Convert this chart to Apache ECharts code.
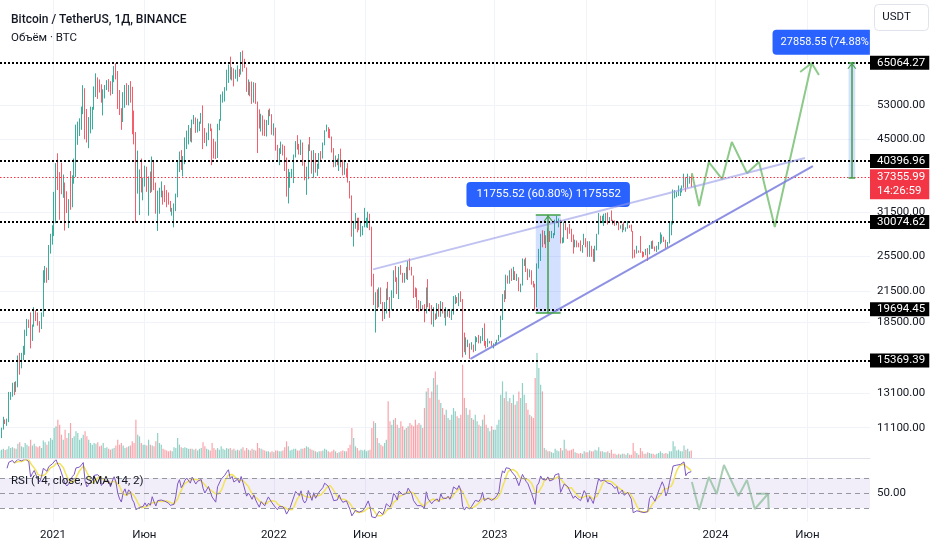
<!DOCTYPE html>
<html>
<head>
<meta charset="utf-8">
<script src="https://cdn.jsdelivr.net/npm/echarts@6/dist/echarts.min.js"></script>
<style>html,body{margin:0;padding:0;background:#fff}#c{width:932px;height:550px}</style>
</head>
<body>
<div id="c"></div>
<script>
// ===== DATA =====
// 3-day BTC/USDT candles, starting 2020-09-19; prices in thousands of USDT.
// open of each candle = previous close (24/7 market).
const CANDLE_START = '2020-09-19';
const CANDLE_DAYS = 3;
const FIRST_OPEN = 11.08;

const close2020 = [10.42,10.73,10.77,10.78,10.55, 10.59,11.05,11.55,11.5,11.5,12.8,13.1,13.65,13.55,13.55, 15.6,15.5,15.7,16.05,17.65,18.65,18.4,17.15,18.2,19.2, 19.15,18.3,18.05,19.25,22.8,23.85,23.25,26.45,27.35,29.4];
const high2020  = [11.05,10.8,10.8,10.95,10.9, 10.8,11.1,11.7,11.55,11.6,13.2,13.2,13.8,13.85,13.9, 15.75,15.95,15.95,16.5,17.85,18.8,18.75,19.4,18.3,19.9, 19.6,19.4,18.6,19.4,23.8,24.3,24.1,26.9,28.4,29.6];
const low2020   = [10.35,10.2,10.55,10.63,10.4, 10.5,10.55,11.0,11.3,11.2,11.4,12.7,12.9,13.0,13.2, 13.5,14.35,14.8,15.4,15.8,17.3,18.0,16.3,16.9,18.1, 18.6,18.2,17.6,17.9,19.0,22.4,22.4,22.7,25.8,26.95];
const vol2020   = [60,55,50,50,48, 45,50,55,48,52,70,60,65,58,55, 85,95,70,65,90,80,70,110,75,85, 70,65,72,60,105,95,80,100,120,110];

const close2021 = [32.0,39.4,38.2,37.4,36.0,36.0,33.0,32.3,33.4,33.1, 37.6,39.2,46.5,47.4,47.9,51.5,57.4,49.7,46.2,48.4, 48.8,52.4,57.8,59.0,58.9,58.1,54.3,55.0,57.6,58.7, 58.2,56.0,59.8,63.5,61.4,55.7,51.7,49.1,54.9,57.8, 53.2,57.4,55.9,49.7,46.4,37.0,37.5,38.3,35.7,37.3, 39.2,35.8,37.4,35.5,40.1,35.8,31.6,34.7,34.7,35.0, 34.7,34.2,33.8,33.1,31.8,31.8,32.1,34.3,39.5,42.2, 39.2,40.9,43.8,45.6,47.1,44.7,49.3,49.5,46.9,48.8, 48.8,49.9,46.9,44.9,44.9,47.8,47.3,43.6,42.7,41.0, 48.1,49.2,53.8,54.7,57.4,60.9,64.3,60.7,63.1,60.6, 61.3,62.9,61.5,66.9,64.2,63.6,56.9,58.7,57.1,54.7, 57.0,53.6,50.6,47.5,50.1,48.9,46.7,49.0,50.8,50.7, 47.1,47.3];
const high2021  = [34.8,40.0,41.95,38.3,40.1,37.85,36.4,34.9,33.6,38.5, 37.7,40.9,48.2,48.9,49.7,52.6,58.35,57.5,52.0,50.0, 52.6,52.5,58.0,61.8,60.6,60.0,58.6,57.2,58.4,59.8, 60.1,59.5,61.2,64.0,64.85,62.5,57.0,52.2,56.4,58.4, 58.9,58.4,59.5,57.9,51.6,46.5,42.5,38.8,40.9,37.3, 39.5,39.3,37.5,38.4,41.3,40.5,36.4,35.0,35.5,36.6, 35.0,35.95,35.1,34.7,33.3,32.2,32.9,34.5,40.5,42.3, 42.6,41.4,45.3,46.8,48.1,47.4,49.4,50.5,49.9,49.6, 48.9,51.0,52.9,47.4,46.4,48.5,48.4,47.3,45.0,44.4, 48.4,49.5,55.8,56.6,57.8,62.9,64.5,67.0,63.7,63.3, 62.9,64.2,63.1,68.5,69.0,66.3,63.6,60.0,59.3,59.4, 59.2,59.0,53.9,51.9,50.8,50.4,49.4,49.3,51.8,52.1, 50.7,48.5];
const low2021   = [28.1,29.9,35.1,30.4,34.4,33.8,28.85,31.4,29.2,31.9, 32.3,36.2,37.4,43.7,45.6,47.0,50.7,44.9,44.2,43.0, 46.2,47.1,51.8,55.1,54.6,56.3,53.6,50.4,54.7,57.0, 56.5,55.5,55.9,59.2,60.0,52.0,50.5,47.0,48.8,52.3, 53.0,52.9,53.6,46.0,43.8,30.0,34.5,31.1,34.7,33.4, 35.7,34.8,31.0,34.6,34.8,35.1,31.3,28.8,31.3,33.9, 32.7,33.1,32.3,32.7,31.6,31.0,29.3,31.7,33.9,38.3, 38.7,37.5,39.8,42.8,43.8,44.4,44.2,48.3,46.3,46.4, 46.7,48.4,42.8,44.1,43.4,44.7,46.7,39.6,40.9,40.8, 41.0,46.9,49.1,53.6,53.9,56.8,59.0,60.0,59.7,58.0, 60.2,59.4,60.7,61.4,62.3,63.4,56.5,55.6,55.3,53.3, 53.6,53.3,42.0,47.3,46.6,45.7,45.6,45.5,48.1,50.2, 45.9,45.7];
const vol2021   = [180,190,230,200,140,110,170,120,150,210, 120,130,160,150,110,120,140,160,130,110, 90,80,90,85,95,70,75,90,60,65, 55,50,55,60,75,110,80,90,75,60, 65,70,75,100,90,230,140,130,90,80, 80,75,110,80,75,70,100,150,90,80, 55,50,45,40,45,40,65,60,120,80, 65,60,65,60,55,55,55,50,55,45, 55,60,95,70,55,50,45,90,60,50, 60,50,70,55,50,60,55,60,50,55, 45,50,45,55,65,45,60,50,45,55, 50,45,90,60,55,50,45,40,40,35, 40,35];

const close2022 = [43.4,41.6,42.7,43.1,42.2,40.7,36.3,36.8,38.2,38.7, 41.6,43.8,43.6,42.2,44.0,40.1,38.3,39.2,43.2,42.5, 38.4,41.9,38.8,39.3,41.8,41.0,44.0,46.8,47.1,45.8, 45.5,42.3,39.5,39.9,39.7,41.4,39.5,38.1,38.6,38.5, 36.6,34.1,29.0,29.3,30.4,29.2,29.1,29.2,29.4,29.8, 29.9,31.1,29.1,22.5,20.4,20.6,20.0,21.5,20.3,19.3, 20.2,21.6,20.8,20.2,21.2,23.4,22.7,21.3,23.8,23.3, 22.8,23.2,23.1,24.4,24.1,23.2,21.5,21.4,20.0,19.8, 19.9,19.8,19.3,21.8,20.2,20.1,18.9,19.3,19.2,19.6, 19.0,20.2,19.4,19.0,19.2,19.5,19.0,19.6,20.8,20.8, 20.5,21.1,20.6,17.6,16.3,16.7,16.7,16.2,16.5,16.2, 17.0,17.1,16.8,17.1,17.8,16.6,16.4,16.8,16.8,16.5, 16.5];
const high2022  = [47.5,43.7,43.0,44.4,43.8,43.5,41.1,38.9,38.3,38.9, 41.7,44.5,45.8,43.9,44.8,44.2,40.2,39.3,43.8,45.4, 42.5,42.6,42.0,39.9,42.0,42.4,44.2,46.9,48.2,47.6, 47.2,45.5,43.0,41.5,40.9,41.8,42.9,40.6,40.4,39.0, 40.0,36.7,34.2,30.0,31.4,30.7,30.7,30.2,29.5,32.2, 30.7,31.6,31.3,29.4,23.4,21.4,21.7,21.9,21.9,20.4, 20.4,21.8,22.5,20.9,21.6,23.8,24.3,23.0,24.2,24.4, 23.5,23.5,24.2,24.9,25.2,24.2,23.2,21.9,21.8,20.6, 20.5,20.1,20.2,21.9,22.8,20.3,20.0,19.9,19.3,20.3, 20.2,20.5,20.4,19.6,19.9,19.7,19.7,19.7,21.0,21.1, 20.9,21.3,21.5,20.7,17.6,17.2,17.0,16.7,16.8,16.6, 17.3,17.2,17.4,17.3,18.0,18.4,16.9,17.1,16.9,16.9, 16.7];
const low2022   = [42.5,40.5,39.6,41.8,41.5,38.5,34.0,32.9,35.5,37.4, 36.3,41.1,42.7,41.7,41.6,39.5,36.8,34.3,37.0,42.4, 38.0,37.2,38.2,37.6,38.9,40.5,40.9,43.6,46.6,45.2, 45.1,42.1,39.2,39.3,39.6,38.5,39.2,37.7,37.8,37.4, 36.4,33.7,28.0,26.7,29.1,28.6,28.9,28.0,28.2,29.3, 29.3,29.2,28.9,22.0,20.1,17.6,19.8,19.9,20.2,18.6, 18.8,19.3,20.6,18.9,19.6,20.8,22.5,21.2,20.7,23.3, 22.4,22.4,22.8,22.7,23.8,23.2,20.8,20.9,19.8,19.5, 19.6,19.6,18.5,19.3,19.9,19.5,18.3,18.1,18.7,18.8, 19.0,19.0,19.3,18.9,18.2,19.0,18.9,18.7,19.2,20.2, 20.3,20.0,20.4,15.6,16.0,15.8,16.4,15.5,16.2,16.0, 16.1,16.8,16.7,16.7,16.9,16.5,16.3,16.4,16.7,16.5, 16.3];
const vol2022   = [45,45,40,40,45,65,100,70,45,50, 55,55,45,45,55,55,60,70,65,55, 50,45,40,35,40,40,45,55,50,40, 35,40,50,40,30,35,40,45,40,40, 60,80,180,120,70,60,45,50,45,50, 40,45,50,180,220,210,120,90,80,70, 90,110,340,220,200,230,240,200,180,220, 190,170,180,190,210,200,190,230,200,210, 200,180,300,400,420,360,400,480,520,440, 350,330,300,260,290,240,230,260,300,280, 250,240,260,560,360,300,260,290,240,230, 260,220,200,190,230,260,200,180,160,190, 170];

const close2023 = [16.7,16.9,17.2,18.8,20.9,20.7,22.8,22.6,23.1,22.8, 23.5,22.9,22.9,21.9,22.2,24.6,24.8,23.9,23.6,23.6, 22.3,22.2,20.2,24.1,25.0,28.0,27.3,27.5,27.3,28.5, 27.8,28.0,28.3,29.9,30.3,30.4,27.3,27.5,29.5,29.2, 29.0,28.9,27.6,26.8,27.2,26.8,26.7,26.3,26.9,27.7, 27.2,25.7,26.5,25.9,25.1,26.3,28.3,30.7,30.2,30.4, 30.6,30.8,30.3,30.6,30.3,30.1,29.8,30.1,29.2,29.4, 29.7,29.1,29.2,29.4,29.3,28.7,26.1,26.0,26.2,26.1, 26.0,25.9,25.8,25.9,25.8,26.6,26.8,26.6,26.3,26.4, 27.0,27.4,27.9,27.6,26.8,27.2,28.3,29.9,33.9,33.9, 34.5,34.9,35.0,35.6,37.1,35.5,36.6,37.4,37.35599];
const high2023  = [16.8,17.0,17.4,19.1,21.2,21.6,23.3,23.2,23.8,24.0, 24.2,23.7,23.4,23.0,22.3,25.2,25.1,25.3,24.0,23.9, 23.8,22.6,22.3,24.6,26.4,28.4,28.9,28.8,28.2,29.2, 28.8,28.8,28.5,30.4,31.0,30.6,30.4,27.9,30.0,29.9, 29.3,29.8,29.1,28.3,27.6,27.5,27.2,27.5,26.9,28.4, 27.8,27.4,27.4,26.8,26.4,26.8,28.4,31.4,31.0,31.0, 31.3,31.4,31.5,30.8,31.8,30.4,30.3,30.1,30.1,29.6, 29.8,30.0,29.3,30.2,29.6,29.7,28.8,26.3,26.8,26.2, 28.1,26.1,26.0,26.4,26.5,26.9,27.4,27.5,26.7,26.8, 27.3,28.6,28.3,28.0,27.6,27.3,30.0,30.2,35.2,35.1, 34.8,35.9,35.4,35.9,38.0,37.4,38.0,37.5,37.9];
const low2023   = [16.5,16.6,16.9,17.2,18.7,20.4,20.7,22.3,22.3,22.6, 22.7,22.7,22.6,21.5,21.4,22.1,24.3,23.6,22.7,23.0, 22.2,21.9,19.6,19.9,24.0,24.9,26.6,27.0,26.5,27.7, 27.3,27.8,27.8,28.2,29.9,29.3,27.1,27.1,27.2,28.9, 27.7,28.4,27.3,25.8,26.6,26.6,26.6,26.1,25.9,26.9, 26.6,25.4,25.4,25.4,24.8,24.8,26.2,28.3,29.9,29.9, 29.5,30.2,29.7,30.0,30.2,29.7,29.5,29.6,28.9,29.1, 28.6,28.9,28.7,29.1,29.2,28.7,25.2,25.3,25.8,25.9, 25.9,25.3,25.4,25.6,24.9,25.7,26.4,26.4,26.1,26.0, 26.3,27.2,27.2,27.3,26.5,26.6,27.1,28.2,29.7,33.7, 33.9,34.1,34.1,34.7,35.5,34.8,35.5,36.2,35.6];
const vol2023   = [170,200,230, 380,460,360,400,340,360,330,380,320,340,400,360,450,380, 330,290,260,250,240, 480,630,540,440,400, 60,50,40,40,35,30,55,45,40,60, 45,110,55,45,45,50,55,35,30,25, 30,25,40,35,35,45,40,40,50,45, 65,40,40,35,35,40,30,50,25,25, 20,25,20,25,25,20,30,20,20,90, 40,30,20,60,40,25,25,35,30,25, 25,20,25,30,40,30,25,30,25,40, 40,100,70,45,50,40,40,75,50,55,40,45];

// axes
const PRICE_TICKS = [53000, 45000, 31500, 25500, 21500, 18500, 13100, 11100];
const LEVELS = [65064.27, 40396.96, 30074.62, 19694.45, 15369.39];
const CURRENT_PRICE = 37355.99;
const COUNTDOWN = '14:26:59';
const TIME_TICKS = ['2021-01-01','2021-06-01','2022-01-01','2022-06-01','2023-01-01','2023-06-01','2024-01-01','2024-06-01'];
const TIME_LABELS = ['2021','Июн','2022','Июн','2023','Июн','2024','Июн'];
const X_RANGE = ['2020-10-05T09:36:00Z', '2024-09-12T10:00:00Z'];
const Y_RANGE = [9584, 88160];
const VOL_MAX = 2750;          // thousand BTC (axis top)
const RSI_RANGE = [12, 94];
const RSI_TICKS = [50];
const RSI_BANDS = [70, 50, 30];
const RSI_LEN = 9;             // smoothing length chosen for 3-day bars (label shows the daily RSI 14)
const RSI_MA_LEN = 5;

// drawings
const TREND_UPPER = [['2022-06-14', 23900], ['2024-05-28', 41000]];
const TREND_LOWER = [['2022-11-22', 15500], ['2024-06-10', 39400]];
const PRICE_PATH = [['2023-11-23',38100],['2023-12-05',32500],['2023-12-21',40200],['2024-01-12',37000],['2024-01-28',44300],['2024-02-22',38100],['2024-03-13',40200],['2024-04-08',29350],['2024-06-08',64970]];
const PRICE_PATH_HEAD = [['2024-05-20',62200],['2024-06-08',64970],['2024-06-20',61300]];
const RSI_PATH = [['2023-11-23',64.7],['2023-12-05',27.3],['2023-12-21',71.3],['2024-01-03',48.7],['2024-01-15',87.3],['2024-02-08',46],['2024-02-22',67.3],['2024-03-06',28.7],['2024-03-28',49]];
const RSI_PATH_HEAD = [['2024-03-08',49],['2024-03-28',49],['2024-03-29',28.5]];
const MEASURES = [
  { from: '2023-03-10', to: '2023-04-20', low: 19334.72, high: 31090.24, text: '11755.52 (60.80%) 1175552' },
  { from: '2024-08-08', to: '2024-08-19', low: 37205.72, high: 65064.27, text: '27858.55 (74.88%' }
];

// ===== BUILD =====
const DAY = 86400000;
const ts = s => Date.parse(s.length > 10 ? s : s + 'T00:00:00Z');
const K = v => v * 1000;
const closes = [...close2020, ...close2021, ...close2022, ...close2023].map(K);
const highs = [...high2020, ...high2021, ...high2022, ...high2023].map(K);
const lows = [...low2020, ...low2021, ...low2022, ...low2023].map(K);
const vols = [...vol2020, ...vol2021, ...vol2022, ...vol2023];
const t0 = ts(CANDLE_START);
const times = closes.map((_, i) => t0 + (i * CANDLE_DAYS + 1) * DAY);
const opens = closes.map((c, i) => i === 0 ? K(FIRST_OPEN) : closes[i - 1]);
const candleData = closes.map((c, i) => {
  const o = opens[i];
  return [times[i], o, c, Math.min(lows[i], o, c), Math.max(highs[i], o, c)];
});
const UP = '#089981', DOWN = '#f23645';
const volData = vols.map((v, i) => ({
  value: [times[i], v],
  itemStyle: { color: closes[i] >= opens[i] ? 'rgba(8,153,129,0.45)' : 'rgba(242,54,69,0.45)' }
}));

function calcRSI(src, n) {
  const out = src.map(() => null);
  let g = 0, l = 0;
  for (let i = 1; i <= n; i++) { const d = src[i] - src[i - 1]; if (d > 0) g += d; else l -= d; }
  g /= n; l /= n;
  out[n] = l === 0 ? 100 : 100 - 100 / (1 + g / l);
  for (let i = n + 1; i < src.length; i++) {
    const d = src[i] - src[i - 1];
    g = (g * (n - 1) + Math.max(d, 0)) / n;
    l = (l * (n - 1) + Math.max(-d, 0)) / n;
    out[i] = l === 0 ? 100 : 100 - 100 / (1 + g / l);
  }
  return out;
}
const rsi = calcRSI(closes, RSI_LEN);
const rsiMA = rsi.map((v, i) => {
  if (i < RSI_LEN + RSI_MA_LEN - 1) return null;
  let s = 0; for (let k = 0; k < RSI_MA_LEN; k++) s += rsi[i - k];
  return s / RSI_MA_LEN;
});
const rsiData = rsi.map((v, i) => [times[i], v]).filter(d => d[1] != null);
const rsiMAData = rsiMA.map((v, i) => [times[i], v]).filter(d => d[1] != null);

const pts = arr => arr.map(p => [ts(p[0]), p[1]]);
const xTicks = TIME_TICKS.map(ts);
const xMin = ts(X_RANGE[0]), xMax = ts(X_RANGE[1]);
const timeLabel = v => { const i = xTicks.indexOf(v); return i >= 0 ? TIME_LABELS[i] : ''; };

const FONT = 'Roboto';
const TXT = '#131722';
const GRIDC = '#f0f3fa';
const boxLabel = bg => ({
  show: true, position: 'end', distance: 0, color: '#fff', backgroundColor: bg,
  fontSize: 11.5, fontFamily: FONT, lineHeight: 12, padding: [1, 4, 1, 7]
});
const MEASURE_GREEN = '#43a047';
const CHEVRON = 'path://M0,8 L5,0 L10,8 L8.6,8 L5,2.4 L1.4,8 Z';

const mlData = [];
LEVELS.forEach(v => mlData.push({
  yAxis: v, lineStyle: { color: '#000', type: 'dotted', width: 2 },
  label: Object.assign(boxLabel('#000'), { formatter: v.toFixed(2) })
}));
mlData.push({ yAxis: CURRENT_PRICE, lineStyle: { color: '#f23645', type: [1.5, 2], width: 1 }, label: { show: false } });
[[TREND_UPPER, 'rgba(150,153,232,0.6)'], [TREND_LOWER, 'rgba(122,126,222,0.85)']].forEach(([tl, col]) => {
  mlData.push([
    { coord: [ts(tl[0][0]), tl[0][1]], lineStyle: { color: col, width: 2, type: 'solid' }, label: { show: false } },
    { coord: [ts(tl[1][0]), tl[1][1]] }
  ]);
});
const maData = [];
MEASURES.forEach((m, idx) => {
  const a = ts(m.from), b = ts(m.to), mid = (a + b) / 2;
  const ls = { color: MEASURE_GREEN, width: 1.5, type: 'solid' };
  mlData.push([{ coord: [mid, m.low], lineStyle: ls, label: { show: false }, symbol: 'none' },
               { coord: [mid, m.high], symbol: CHEVRON, symbolSize: [9, 6], symbolOffset: [0, 3] }]);
  mlData.push([{ coord: [a, m.low], lineStyle: ls, label: { show: false } }, { coord: [b, m.low] }]);
  mlData.push([{ coord: [a, m.high], lineStyle: ls, label: { show: false } }, { coord: [b, m.high] }]);
  const lab = {
    show: true, position: 'top', distance: 8, formatter: m.text, color: '#fff',
    backgroundColor: '#2962ff', borderRadius: 4, padding: [6, 9, 6, 10],
    fontSize: 11.5, fontFamily: FONT, lineHeight: 13
  };
  if (idx === 1) { lab.align = 'right'; lab.offset = [18, 0]; lab.padding = [6, 1, 6, 8]; lab.borderRadius = [4, 0, 0, 4]; lab.fontSize = 11; }
  maData.push([{ coord: [a, m.low], itemStyle: { color: 'rgba(41,98,255,0.2)' }, label: lab }, { coord: [b, m.high] }]);
});

const timeAxis = (gridIndex, showLabel) => ({
  type: 'value', gridIndex, min: xMin, max: xMax, scale: true,
  axisLine: { show: gridIndex === 0, onZero: false, lineStyle: { color: '#e0e3eb' } },
  axisTick: { show: false, customValues: xTicks },
  axisLabel: showLabel ? { show: true, customValues: xTicks, formatter: timeLabel, color: TXT, fontSize: 11.5, fontFamily: FONT, margin: 8 } : { show: false, customValues: xTicks },
  splitLine: { show: gridIndex !== 1, lineStyle: { color: GRIDC, width: 1 } }
});

const option = {
  animation: false,
  backgroundColor: '#ffffff',
  textStyle: { fontFamily: FONT },
  title: [
    { text: 'Bitcoin / TetherUS, 1Д, BINANCE', left: 6, top: 9, textStyle: { fontSize: 12, fontWeight: 500, color: TXT, fontFamily: FONT } },
    { text: 'Объём · BTC', left: 6, top: 27, textStyle: { fontSize: 11.5, fontWeight: 'normal', color: TXT, fontFamily: FONT } },
    { text: 'RSI (14, close, SMA, 14, 2)', left: 6, top: 470, textStyle: { fontSize: 11.5, fontWeight: 'normal', color: TXT, fontFamily: FONT } }
  ],
  grid: [
    { left: 0, right: 62, top: 0, height: 458 },
    { left: 0, right: 62, top: 0, height: 458 },
    { left: 0, right: 62, top: 460, height: 61.5 }
  ],
  xAxis: [timeAxis(0, false), Object.assign(timeAxis(1, false), { show: false }), timeAxis(2, true)],
  yAxis: [
    {
      type: 'log', logBase: 10, gridIndex: 0, min: Y_RANGE[0], max: Y_RANGE[1], position: 'right',
      axisLine: { show: false }, axisTick: { show: false, customValues: PRICE_TICKS },
      axisLabel: { customValues: PRICE_TICKS, formatter: v => Number(v).toFixed(2), color: TXT, fontSize: 11.5, fontFamily: FONT, margin: 7 },
      splitLine: { show: true, lineStyle: { color: GRIDC } }
    },
    { type: 'value', gridIndex: 1, min: 0, max: VOL_MAX, show: false, splitLine: { show: false } },
    {
      type: 'value', gridIndex: 2, min: RSI_RANGE[0], max: RSI_RANGE[1], position: 'right',
      axisLine: { show: false }, axisTick: { show: false, customValues: RSI_TICKS },
      axisLabel: { customValues: RSI_TICKS, formatter: v => Number(v).toFixed(2), color: TXT, fontSize: 11.5, fontFamily: FONT, margin: 7 },
      splitLine: { show: false }
    }
  ],
  graphic: [{
    type: 'group', left: 874, top: 4, children: [
      { type: 'rect', shape: { x: 0, y: 0, width: 54, height: 26, r: 4 }, style: { fill: '#fff', stroke: '#e0e3eb', lineWidth: 1 } },
      { type: 'text', x: 22, y: 13, style: { text: 'USDT', fill: TXT, font: '11.5px Roboto', align: 'center', verticalAlign: 'middle' } }
    ]
  }],
  series: [
    { name: 'Volume', type: 'bar', xAxisIndex: 1, yAxisIndex: 1, barWidth: 1.2, silent: true, z: 1, data: volData },
    {
      name: 'BTCUSDT', type: 'candlestick', xAxisIndex: 0, yAxisIndex: 0, barWidth: 0.9, silent: true, z: 2,
      itemStyle: { color: UP, color0: DOWN, borderColor: UP, borderColor0: DOWN, borderWidth: 0.8 },
      data: candleData,
      markLine: { silent: true, symbol: ['none', 'none'], animation: false, data: mlData },
      markArea: { silent: true, data: maData },
      markPoint: {
        silent: true, animation: false,
        data: [{
          coord: [xMax, CURRENT_PRICE], symbol: 'circle', symbolSize: 0,
          label: {
            show: true, position: 'right', distance: 0, offset: [0, 7],
            formatter: CURRENT_PRICE.toFixed(2) + '\n' + COUNTDOWN, color: '#fff', backgroundColor: '#f23645',
            fontSize: 11.5, fontFamily: FONT, lineHeight: 14, padding: [1, 4, 1, 7], align: 'left'
          }
        }]
      }
    },
    { name: 'Projection', type: 'line', xAxisIndex: 0, yAxisIndex: 0, silent: true, z: 4, symbol: 'none',
      lineStyle: { color: '#8dca8a', width: 2 }, data: pts(PRICE_PATH) },
    { name: 'ProjectionHead', type: 'line', xAxisIndex: 0, yAxisIndex: 0, silent: true, z: 4, symbol: 'none',
      lineStyle: { color: '#8dca8a', width: 2 }, data: pts(PRICE_PATH_HEAD) },
    {
      name: 'RSI', type: 'line', xAxisIndex: 2, yAxisIndex: 2, silent: true, symbol: 'none', z: 3,
      lineStyle: { color: '#7e57c2', width: 1 }, data: rsiData,
      markArea: { silent: true, itemStyle: { color: 'rgba(126,87,194,0.1)' }, data: [[{ yAxis: 30 }, { yAxis: 70 }]] },
      markLine: { silent: true, symbol: ['none', 'none'], label: { show: false },
        lineStyle: { color: '#9598a1', type: [5, 4], width: 1 },
        data: RSI_BANDS.map(v => ({ yAxis: v })) }
    },
    { name: 'RSI MA', type: 'line', xAxisIndex: 2, yAxisIndex: 2, silent: true, symbol: 'none', z: 2,
      lineStyle: { color: '#f2e35c', width: 1.5 }, data: rsiMAData },
    { name: 'RSI projection', type: 'line', xAxisIndex: 2, yAxisIndex: 2, silent: true, symbol: 'none', z: 4,
      lineStyle: { color: 'rgba(140,190,155,0.75)', width: 2 }, data: pts(RSI_PATH) },
    { name: 'RSI projection head', type: 'line', xAxisIndex: 2, yAxisIndex: 2, silent: true, symbol: 'none', z: 4,
      lineStyle: { color: 'rgba(140,190,155,0.75)', width: 2 }, data: pts(RSI_PATH_HEAD) }
  ]
};
const chart = echarts.init(document.getElementById('c'), null, { renderer: 'canvas' });
chart.setOption(option);
</script>
</body>
</html>
